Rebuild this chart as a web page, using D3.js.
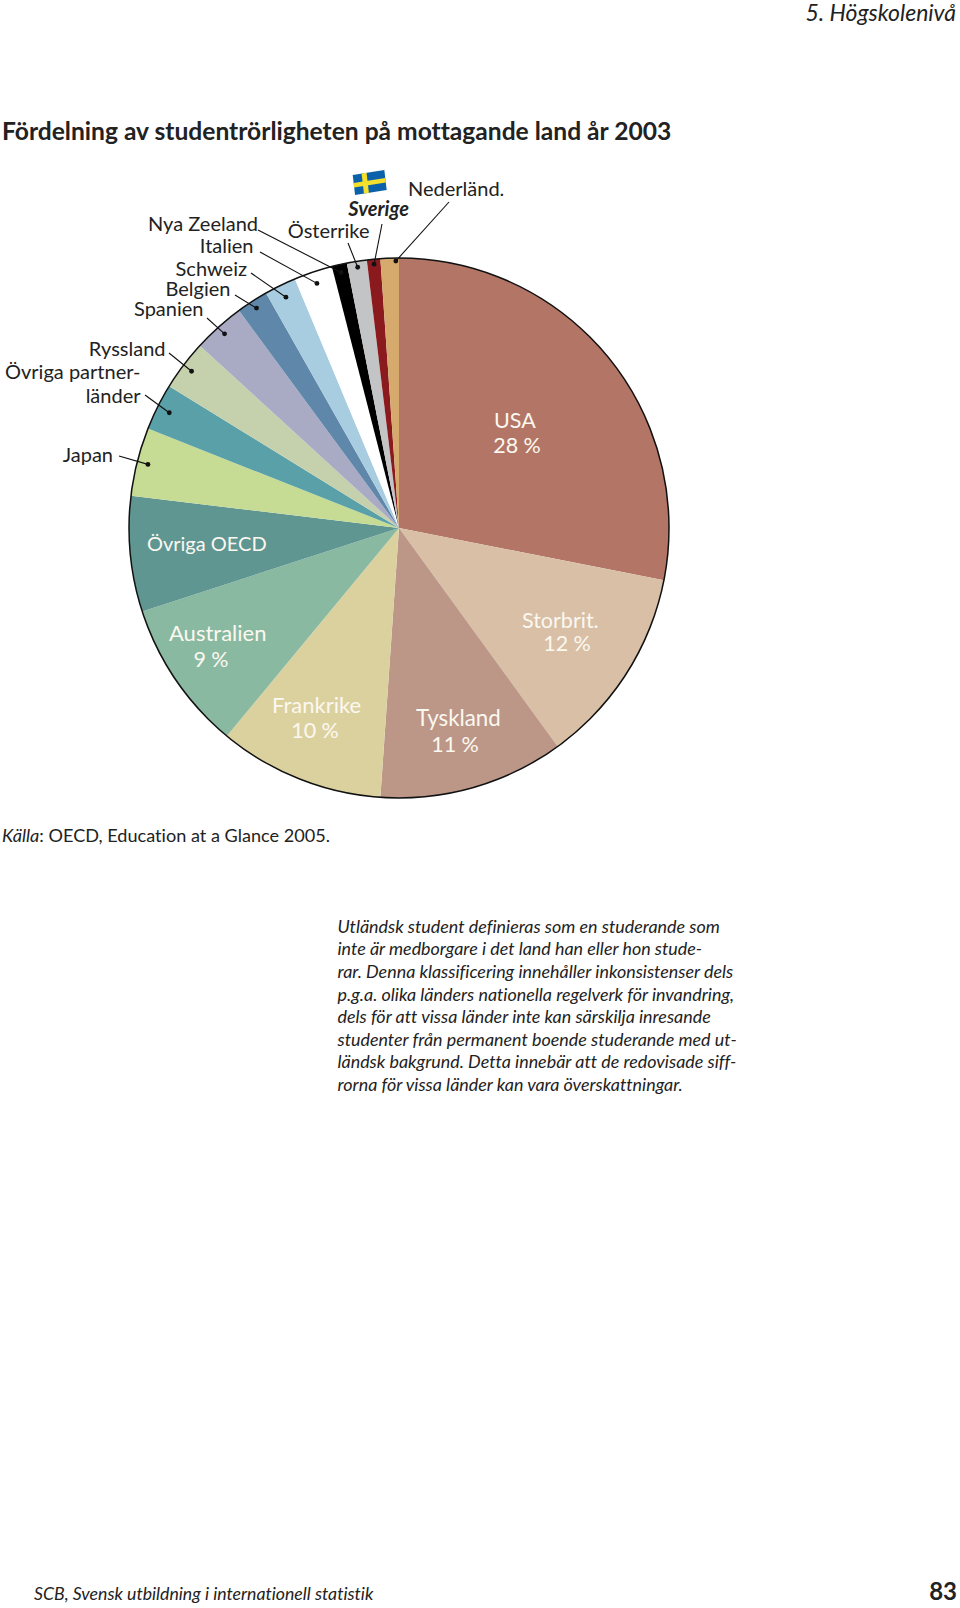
<!DOCTYPE html>
<html lang="sv">

<head>
  <meta charset="utf-8" />
  <style>
    html, body { margin: 0; padding: 0; background: #fff; }
    svg { display: block; }
    text { font-family: Lato, "Open Sans", sans-serif; fill: #222; font-variant-ligatures: none; }
  </style>
</head>

<body>
  <div id="chart"></div>

  <script src="https://cdnjs.cloudflare.com/ajax/libs/d3/7.8.5/d3.min.js"></script>
  <script>
    const countries = ["USA", "Storbrit.", "Tyskland", "Frankrike", "Australien", "Övriga OECD", "Japan",
      "Övriga partnerländer", "Ryssland", "Spanien", "Belgien", "Schweiz", "Italien", "Nya Zeeland",
      "Österrike", "Sverige", "Nederländ."];
    const shares = [28.1, 11.9, 11.1, 9.9, 9, 6.9, 4.1, 2.8, 3.0, 3.1, 1.9, 1.9, 2.3, 0.9, 1.2, 0.8, 1.1];
    const palette = ["#b37666", "#d8bfa6", "#bc9788", "#dbd19f", "#8ab9a1", "#5f9692", "#c6dc94",
      "#5aa0a8", "#c5d1ad", "#a9aac4", "#5f87a9", "#a9cde0", "#ffffff", "#000000",
      "#c2c4c6", "#8a1a1e", "#d6a96c"];

    const notes = [
      "Utländsk student definieras som en studerande som",
      "inte är medborgare i det land han eller hon stude-",
      "rar. Denna klassificering innehåller inkonsistenser dels",
      "p.g.a. olika länders nationella regelverk för invandring,",
      "dels för att vissa länder inte kan särskilja inresande",
      "studenter från permanent boende studerande med ut-",
      "ländsk bakgrund. Detta innebär att de redovisade siff-",
      "rorna för vissa länder kan vara överskattningar."
    ];

    const width = 960, height = 1608;
    const cx = 399, cy = 528, radius = 270;

    const svg = d3.select("#chart").append("svg")
      .attr("width", width)
      .attr("height", height);

    const color = d3.scaleOrdinal().domain(countries).range(palette);

    const slices = d3.pie().sort(null).value(d => d.share)(
      countries.map((c, i) => ({ name: c, share: shares[i] })));
    const bySlice = new Map(slices.map(s => [s.data.name, s]));

    const arc = d3.arc().innerRadius(0).outerRadius(radius);
    const pieG = svg.append("g").attr("transform", `translate(${cx},${cy})`);

    pieG.selectAll("path.slice")
      .data(slices)
      .join("path")
      .attr("class", "slice")
      .attr("fill", d => color(d.data.name))
      .attr("d", arc);

    pieG.append("circle")
      .attr("r", radius)
      .attr("fill", "none")
      .attr("stroke", "#111")
      .attr("stroke-width", 1.5);

    // labels inside the pie
    const inside = [
      { x: 494, y: 428, t: "USA" }, { x: 517, y: 453, t: "28 %", a: "middle" },
      { x: 147, y: 551, t: "Övriga OECD", s: 20 },
      { x: 169, y: 641, t: "Australien", s: 22 }, { x: 211, y: 667, t: "9 %", a: "middle" },
      { x: 272, y: 713, t: "Frankrike", s: 22 }, { x: 315, y: 738, t: "10 %", a: "middle" },
      { x: 416, y: 726, t: "Tyskland", s: 22.3 }, { x: 455, y: 752, t: "11 %", a: "middle" },
      { x: 522, y: 628, t: "Storbrit." }, { x: 567, y: 651, t: "12 %", a: "middle" }
    ];
    svg.selectAll("text.inside")
      .data(inside)
      .join("text")
      .attr("class", "inside")
      .attr("x", d => d.x)
      .attr("y", d => d.y)
      .attr("text-anchor", d => d.a || "start")
      .attr("font-size", d => d.s || 21.5)
      .style("fill", "#fbf8f0")
      .text(d => d.t);

    // outside labels, leader start points and how far in the dot sits
    const leaders = [
      { key: "Nederländ.", lines: [["Nederländ.", 408, 196, "start"]], from: [449, 202], dr: 267, da: 1.3 },
      { key: "Sverige", lines: [["Sverige", 409, 216, "end"]], from: [382, 224], dr: 265, bold: true },
      { key: "Österrike", lines: [["Österrike", 369.5, 238, "end"]], from: [348, 243], dr: 264 },
      { key: "Nya Zeeland", lines: [["Nya Zeeland", 258, 231, "end"]], from: [258, 230], dr: 262 },
      { key: "Italien", lines: [["Italien", 253.5, 253, "end"]], from: [260, 252], dr: 258 },
      { key: "Schweiz", lines: [["Schweiz", 247, 276, "end"]], from: [251, 273], dr: 257 },
      { key: "Belgien", lines: [["Belgien", 230.5, 296, "end"]], from: [235, 295], dr: 262 },
      { key: "Spanien", lines: [["Spanien", 203.5, 316, "end"]], from: [207, 318], dr: 261 },
      { key: "Ryssland", lines: [["Ryssland", 165.5, 356, "end"]], from: [169, 353], dr: 260 },
      { key: "Övriga partnerländer", lines: [["Övriga partner-", 140.5, 379, "end"], ["länder", 140.5, 403, "end"]], from: [145, 395], dr: 257 },
      { key: "Japan", lines: [["Japan", 113, 462, "end"]], from: [119, 456], dr: 259 }
    ];

    function dotPos(d) {
      const s = bySlice.get(d.key);
      const a = (s.startAngle + s.endAngle) / 2 + (d.da || 0) * Math.PI / 180;
      return [cx + d.dr * Math.sin(a), cy - d.dr * Math.cos(a)];
    }

    const lead = svg.selectAll("g.leader").data(leaders).join("g").attr("class", "leader");

    lead.append("line")
      .attr("x1", d => d.from[0])
      .attr("y1", d => d.from[1])
      .attr("x2", d => dotPos(d)[0])
      .attr("y2", d => dotPos(d)[1])
      .attr("stroke", "#111")
      .attr("stroke-width", 1.1);

    lead.append("circle")
      .attr("cx", d => dotPos(d)[0])
      .attr("cy", d => dotPos(d)[1])
      .attr("r", 2.4)
      .attr("fill", "#111");

    lead.selectAll("text")
      .data(d => d.lines.map(l => ({ l, bold: d.bold })))
      .join("text")
      .attr("x", d => d.l[1])
      .attr("y", d => d.l[2])
      .attr("text-anchor", d => d.l[3])
      .attr("font-size", 20)
      .attr("font-weight", d => d.bold ? 700 : 400)
      .attr("font-style", d => d.bold ? "italic" : "normal")
      .text(d => d.l[0]);

    // the flag over Sverige, slightly tilted
    const flag = svg.append("g").attr("transform", "matrix(0.988,-0.155,0.118,1,352.7,175)");
    flag.append("rect").attr("width", 32).attr("height", 20).attr("fill", "#0b62ab");
    flag.append("rect").attr("x", 9).attr("width", 5).attr("height", 20).attr("fill", "#f5e02c");
    flag.append("rect").attr("y", 8).attr("width", 32).attr("height", 4.5).attr("fill", "#f5e02c");

    // running text
    svg.append("text").attr("x", 956).attr("y", 21).attr("text-anchor", "end")
      .attr("font-size", 23).attr("font-style", "italic").text("5. Högskolenivå");

    svg.append("text").attr("x", 2).attr("y", 139.5)
      .attr("font-size", 24.6).attr("font-weight", 700)
      .text("Fördelning av studentrörligheten på mottagande land år 2003");

    const source = svg.append("text").attr("x", 2).attr("y", 842).attr("font-size", 18.1);
    source.append("tspan").attr("font-style", "italic").text("Källa");
    source.append("tspan").text(": OECD, Education at a Glance 2005.");

    svg.selectAll("text.note")
      .data(notes)
      .join("text")
      .attr("class", "note")
      .attr("x", 337.5)
      .attr("y", (d, i) => 932.7 + i * 22.6)
      .attr("font-size", 17.9)
      .attr("font-style", "italic")
      .text(d => d);

    svg.append("text").attr("x", 34).attr("y", 1600)
      .attr("font-size", 17.7).attr("font-style", "italic")
      .text("SCB, Svensk utbildning i internationell statistik");

    svg.append("text").attr("x", 957).attr("y", 1600).attr("text-anchor", "end")
      .attr("font-size", 24).attr("font-weight", 700).text("83");
  </script>
</body>

</html>
